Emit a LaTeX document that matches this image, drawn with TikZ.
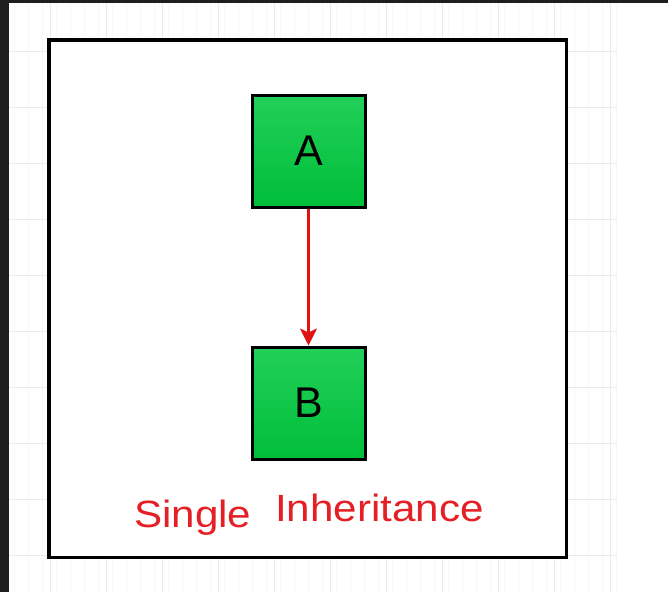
\documentclass[tikz,border=0pt]{standalone}
\usepackage{fontspec}
\setmainfont{Liberation Sans}
\definecolor{darkstrip}{RGB}{30,30,30}
\definecolor{gridmajor}{RGB}{234,234,234}
\definecolor{gridminor}{RGB}{247,247,247}
\definecolor{greentop}{RGB}{34,208,88}
\definecolor{greenbot}{RGB}{0,190,58}
\definecolor{labelred}{RGB}{228,32,38}
\definecolor{arrowred}{RGB}{222,20,20}
\tikzset{
  classbox/.style={draw=black, line width=3pt, minimum width=113pt, minimum height=112pt,
    top color=greentop, bottom color=greenbot, inner sep=0pt,
    font=\fontsize{43}{43}\selectfont},
  caption/.style={text=labelred, inner sep=0pt, anchor=base west, xscale=1.11, transform shape,
    font=\fontsize{38}{38}\selectfont},
  inherit/.style={draw=arrowred, line width=2.2pt, -{Stealth[length=17pt,width=17pt,inset=4pt]}}
}
\usetikzlibrary{arrows.meta}
\begin{document}
\begin{tikzpicture}[x=1pt,y=-1pt]
\useasboundingbox (0,0) rectangle (668,592);
\fill[white] (0,0) rectangle (668,592);
% grid
\draw[gridminor, line width=0.6pt] (9,3) grid[step=14] (617,592);
\foreach \x in {50,106,...,617} \draw[gridmajor, line width=0.8pt] (\x,3) -- (\x,592);
\foreach \y in {51,107,...,592} \draw[gridmajor, line width=0.8pt] (9,\y) -- (617,\y);
% dark strips
\fill[darkstrip] (0,0) rectangle (9,592);
\fill[darkstrip] (0,0) rectangle (668,3);
% frame
\draw[black, line width=3.6pt, fill=white] (49,40) rectangle (566.5,557.5);
% classes
\node[classbox] (A) at (308.5,151) {A};
\node[classbox] (B) at (308.5,403) {B};
\draw[inherit] (A.south) -- (B.north);
% caption
\node[caption] (single) at (134,527) {Single};
\node[caption] (inh) at (275,521) {Inheritance};
\end{tikzpicture}
\end{document}
